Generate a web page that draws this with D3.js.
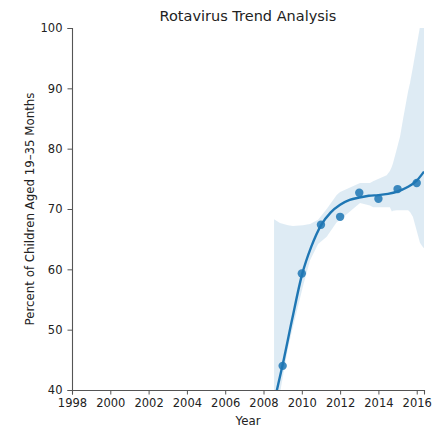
<!DOCTYPE html>
<html><head><meta charset="utf-8">
<script src="https://cdn.jsdelivr.net/npm/d3@7"></script>
<style>body{margin:0;background:#fff;} text{font-family:"DejaVu Sans",sans-serif;}</style>
</head><body><svg id="c" width="438" height="430"></svg>
<script>
const years = [2009, 2010, 2011, 2012, 2013, 2014, 2015, 2016];
const values = [44.0, 59.3, 67.4, 68.7, 72.7, 71.7, 73.3, 74.3];
const fitYears = [2008.5, 2008.7, 2009, 2009.5, 2010, 2010.5, 2011, 2011.5, 2012, 2012.5, 2013, 2013.5, 2014, 2014.5, 2015, 2015.5, 2016, 2016.38];
const fitValues = [37.2, 40, 44.2, 51.8, 59.0, 63.8, 67.3, 69.4, 70.7, 71.5, 71.9, 72.2, 72.3, 72.5, 72.9, 73.6, 74.7, 76.2];
const bandYears = [2008.55, 2008.86, 2009.28, 2009.54, 2010.06, 2010.43, 2010.85, 2011.3, 2011.82, 2012.0, 2013.04, 2013.56, 2013.72, 2014.43, 2014.6, 2014.7, 2014.76, 2014.95, 2015.13, 2015.28, 2015.55, 2015.65, 2015.8, 2016.17, 2016.3, 2016.38];
const bandUpper = [68.3, 67.7, 67.3, 67.2, 67.3, 67.5, 68.2, 70.0, 72.3, 72.8, 74.3, 74.3, 74.6, 75.6, 76.3, 77.0, 77.6, 79.8, 82.0, 84.8, 89.5, 90.9, 93.5, 100.2, 104, 106];
const bandLower = [30, 39.5, 47, 50.5, 57.2, 61.5, 64.2, 65.4, 67.8, 68.2, 71.0, 70.6, 70.3, 70.3, 70.3, 69.6, 69.7, 69.8, 69.8, 69.8, 69.8, 69.5, 68.7, 64.4, 63.8, 63.5];
const xTicks = [1998, 2000, 2002, 2004, 2006, 2008, 2010, 2012, 2014, 2016];
const yTicks = [40, 50, 60, 70, 80, 90, 100];

const svg = d3.select("#c");
const L = 72, R = 424, T = 28, B = 390;
const x = d3.scaleLinear().domain([1998, 2016.38]).range([L, R]);
const y = d3.scaleLinear().domain([40, 100]).range([B, T]);
const C = "#1f77b4";

svg.append("defs").append("clipPath").attr("id", "pc")
  .append("rect").attr("x", L).attr("y", T).attr("width", R - L).attr("height", B - T);
const g = svg.append("g").attr("clip-path", "url(#pc)");

const bandData = bandYears.map((d, i) => [d, bandLower[i], bandUpper[i]]);
g.append("path").datum(bandData)
  .attr("d", d3.area().x(d => x(d[0])).y0(d => y(d[1])).y1(d => y(d[2])))
  .attr("fill", C).attr("fill-opacity", 0.15);

g.selectAll("circle").data(years).join("circle")
  .attr("cx", d => x(d)).attr("cy", (d, i) => y(values[i])).attr("r", 4.2)
  .attr("fill", C).attr("fill-opacity", 0.85);

g.append("path").datum(fitYears.map((d, i) => [d, fitValues[i]]))
  .attr("d", d3.line().x(d => x(d[0])).y(d => y(d[1])).curve(d3.curveMonotoneX))
  .attr("fill", "none").attr("stroke", C).attr("stroke-width", 2.4);

const ax = svg.append("g").attr("transform", `translate(0,${B})`)
  .call(d3.axisBottom(x).tickValues(xTicks).tickFormat(d3.format("d")).tickSize(4.5).tickPadding(4));
const ay = svg.append("g").attr("transform", `translate(${L},0)`)
  .call(d3.axisLeft(y).tickValues(yTicks).tickSize(4.5).tickPadding(5));
[ax, ay].forEach(a => {
  a.select(".domain").attr("stroke", "#555").attr("stroke-width", 1.1);
  a.selectAll(".tick line").attr("stroke", "#555");
  a.selectAll(".tick text").attr("fill", "#222").style("font-size", "11.5px").style("font-family", "DejaVu Sans");
});

svg.append("text").attr("x", (L + R) / 2).attr("y", 21).attr("text-anchor", "middle")
  .style("font-size", "14.5px").attr("fill", "#222").text("Rotavirus Trend Analysis");
svg.append("text").attr("x", (L + R) / 2).attr("y", 425).attr("text-anchor", "middle")
  .style("font-size", "11.8px").attr("fill", "#222").text("Year");
svg.append("text").attr("transform", `translate(34,${(T + B) / 2}) rotate(-90)`).attr("text-anchor", "middle")
  .style("font-size", "11.8px").attr("fill", "#222").text("Percent of Children Aged 19–35 Months");
</script></body></html>
